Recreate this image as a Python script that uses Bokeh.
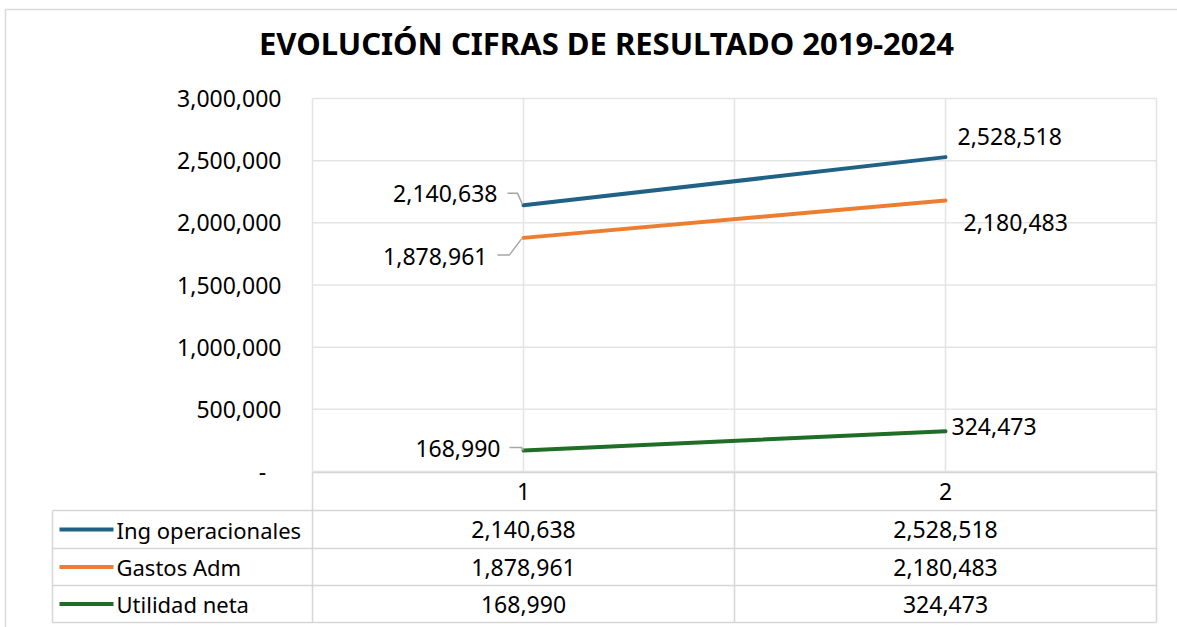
from bokeh.plotting import figure
from bokeh.models import Range1d
from bokeh.core.properties import value
from bokeh.embed import file_html
from bokeh.resources import INLINE

# ---------------- data ----------------
categories = ["1", "2"]
cat_x = [1, 2]
series_names = ["Ing operacionales", "Gastos Adm", "Utilidad neta"]
ing_operacionales = [2140638, 2528518]
gastos_adm = [1878961, 2180483]
utilidad_neta = [168990, 324473]
y_ticks = [0, 500000, 1000000, 1500000, 2000000, 2500000, 3000000]
y_tick_labels = ["-", "500,000", "1,000,000", "1,500,000", "2,000,000", "2,500,000", "3,000,000"]
title_text = "EVOLUCIÓN CIFRAS DE RESULTADO 2019-2024"

series = [ing_operacionales, gastos_adm, utilidad_neta]
colors = ["#1f6285", "#ed7d31", "#1f6e27"]

# ---------------- layout helpers (page pixel -> data) ----------------
W, H = 1177, 627
OFF = 0
CAT1_PX, CAT_W = 523, 422
Y0_PX, YTOP_PX, YMAX = 471, 98, 3000000
PPU = (Y0_PX - YTOP_PX) / YMAX


def dx(px):
    return 1 + (px - CAT1_PX) / CAT_W


def dy(py):
    return (Y0_PX - py) / PPU


def ypx(v):
    return Y0_PX - v * PPU


FONT = value("Noto Sans")
FS = "23px"

p = figure(width=W, height=H, output_backend="svg", toolbar_location=None,
           x_range=Range1d(dx(OFF), dx(OFF + W)), y_range=Range1d(dy(OFF + H), dy(OFF)),
           x_axis_location=None, y_axis_location=None, min_border=0,
           outline_line_color=None, background_fill_color="white")
p.grid.visible = False

GRID = "#e4e4e4"
TABLE = "#d6d6d6"

# chart border (top & left)
p.segment(x0=[dx(5), dx(5)], y0=[dy(9), dy(9)], x1=[dx(OFF + W), dx(5)],
          y1=[dy(9), dy(OFF + H)], line_color="#d9d9d9", line_width=1.5)

# horizontal gridlines
p.segment(x0=[0.5] * len(y_ticks), y0=y_ticks, x1=[2.5] * len(y_ticks), y1=y_ticks,
          line_color=GRID, line_width=1.5)
# vertical gridlines (category centres and boundaries)
vx = [0.5, 1, 1.5, 2, 2.5]
p.segment(x0=vx, y0=[0] * 5, x1=vx, y1=[YMAX] * 5, line_color=GRID, line_width=1.5)

# y tick labels
p.text(x=[dx(281)] * (len(y_ticks) - 1), y=y_ticks[1:], text=y_tick_labels[1:],
       text_font=FONT, text_font_size=FS, text_align="right", text_baseline="middle",
       text_color="#000000")
p.text(x=[dx(262)], y=[y_ticks[0]], text=[y_tick_labels[0]],
       text_font=FONT, text_font_size=FS, text_align="center", text_baseline="middle",
       text_color="#000000")

# title
p.text(x=[dx(606)], y=[dy(42)], text=[title_text], text_font=FONT, text_font_size="31px",
       text_font_style="bold", text_align="center", text_baseline="middle", text_color="#000000")

# series lines
for vals, col in zip(series, colors):
    p.line(x=cat_x, y=vals, line_color=col, line_width=4, line_cap="round")

# data labels: (x_offset, y_offset, align) for point 1 and point 2
lab_specs = [
    [(-26, -12, "right"), (12, -21, "left")],
    [(-36, 18.5, "right"), (18, 22, "left")],
    [(-23, -1.5, "right"), (6, -5, "left")],
]
for vals, specs in zip(series, lab_specs):
    for xi, v, (ox, oy, al) in zip(cat_x, vals, specs):
        p.text(x=[xi], y=[v], text=[f"{v:,}"], x_offset=ox, y_offset=oy,
               text_font=FONT, text_font_size=FS, text_align=al, text_baseline="middle",
               text_color="#000000")

# leader lines for point-1 labels (label side in px offsets from the point)
leaders = [
    [(-16, -12), (-6, -12), (-1, -1)],
    [(-26, 17), (-14, 17), (-2, 1)],
    [(-14, -3), (-2, -3), (0, 0)],
]
for vals, pts in zip(series, leaders):
    px0 = CAT1_PX
    py0 = ypx(vals[0])
    xs = [dx(px0 + a) for a, b in pts]
    ys = [dy(py0 + b) for a, b in pts]
    p.line(x=xs, y=ys, line_color="#a6a6a6", line_width=1.5)

# ---------------- data table ----------------
T_LEFT, P_LEFT, MID, P_RIGHT = 52, 312, 734, 1156
row_lines = [510, 548, 585, 622]
hdr_top = 472
BOTTOM = row_lines[-1]
# horizontal lines
p.segment(x0=[dx(P_LEFT)], y0=[dy(hdr_top)], x1=[dx(P_RIGHT)], y1=[dy(hdr_top)],
          line_color=TABLE, line_width=1.5)
p.segment(x0=[dx(T_LEFT)] * 4, y0=[dy(r) for r in row_lines], x1=[dx(P_RIGHT)] * 4,
          y1=[dy(r) for r in row_lines], line_color=TABLE, line_width=1.5)
# vertical lines
p.segment(x0=[dx(P_LEFT), dx(MID), dx(P_RIGHT)], y0=[dy(hdr_top)] * 3,
          x1=[dx(P_LEFT), dx(MID), dx(P_RIGHT)], y1=[dy(BOTTOM)] * 3,
          line_color=TABLE, line_width=1.5)
p.segment(x0=[dx(T_LEFT)], y0=[dy(row_lines[0])], x1=[dx(T_LEFT)], y1=[dy(BOTTOM)],
          line_color=TABLE, line_width=1.5)

# header row (categories)
hdr_c = (hdr_top + row_lines[0]) / 2
p.text(x=cat_x, y=[dy(hdr_c)] * 2, text=categories, text_font=FONT, text_font_size=FS,
       text_align="center", text_baseline="middle", text_color="#000000")

# series rows
for i, (name, vals, col) in enumerate(zip(series_names, series, colors)):
    cy = (row_lines[i] + row_lines[i + 1]) / 2
    p.line(x=[dx(59), dx(113)], y=[dy(cy), dy(cy)], line_color=col, line_width=4)
    p.text(x=[dx(116)], y=[dy(cy)], text=[name], text_font=FONT, text_font_size="22px",
           text_align="left", text_baseline="middle", text_color="#000000")
    p.text(x=cat_x, y=[dy(cy)] * 2, text=[f"{v:,}" for v in vals], text_font=FONT,
           text_font_size=FS, text_align="center", text_baseline="middle", text_color="#000000")

open("out.html", "w").write(file_html(p, INLINE))
